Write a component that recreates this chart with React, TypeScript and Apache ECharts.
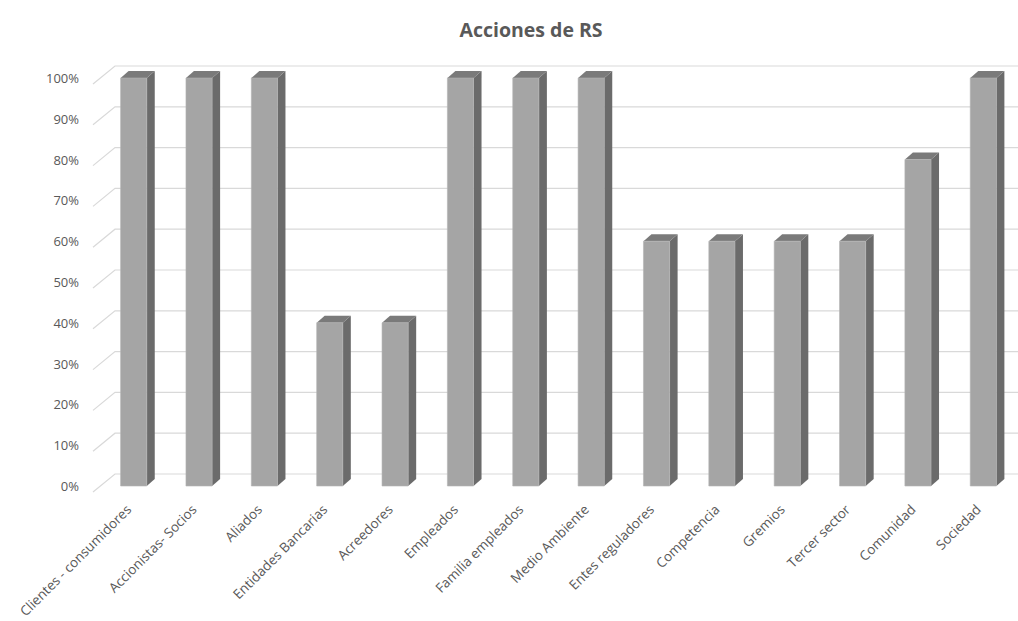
import React, { useEffect, useRef } from "react";
import * as echarts from "echarts";

const titleText = "Acciones de RS";
const categories = [
  "Clientes - consumidores",
  "Accionistas- Socios",
  "Aliados",
  "Entidades Bancarias",
  "Acreedores",
  "Empleados",
  "Familia empleados",
  "Medio Ambiente",
  "Entes reguladores",
  "Competencia",
  "Gremios",
  "Tercer sector",
  "Comunidad",
  "Sociedad",
];
const values = [1, 1, 1, 0.4, 0.4, 1, 1, 1, 0.6, 0.6, 0.6, 0.6, 0.8, 1];
const gridTicks = [0, 0.1, 0.2, 0.3, 0.4, 0.5, 0.6, 0.7, 0.8, 0.9, 1];

const FONT = "'Open Sans', sans-serif";
const DX = 8;
const DY = 7;

export default function App() {
  const ref = useRef<HTMLDivElement>(null);
  useEffect(() => {
    if (!ref.current) return;
    const chart = echarts.init(ref.current, null, { renderer: "svg" });
    chart.setOption({
      animation: false,
      backgroundColor: "#ffffff",
      title: {
        text: titleText,
        left: 526,
        textAlign: "center",
        top: 14,
        textStyle: { fontFamily: FONT, fontSize: 19.5, fontWeight: "bold", color: "#595959" },
      },
      grid: { left: 101, right: 2, top: 78, bottom: 135 },
      xAxis: {
        type: "category",
        data: categories,
        axisLine: { show: false },
        axisTick: { show: false },
        axisLabel: {
          rotate: 45,
          interval: 0,
          margin: 16,
          padding: [0, 7, 0, 0],
          fontFamily: FONT,
          fontSize: 13.5,
          color: "#595959",
        },
      },
      yAxis: {
        type: "value",
        min: 0,
        max: 1,
        interval: 0.1,
        splitLine: { show: false },
        axisLine: { show: false },
        axisTick: { show: false },
        axisLabel: {
          margin: 22,
          padding: [12, 0, 0, 0],
          fontFamily: FONT,
          fontSize: 13,
          color: "#595959",
          formatter: (v: number) => Math.round(v * 100) + "%",
        },
      },
      series: [
        {
          type: "custom",
          silent: true,
          z: 1,
          data: gridTicks.map((t) => [0, t]),
          renderItem: (params: any, api: any) => {
            const cs = params.coordSys;
            const p = api.coord([0, api.value(1)]);
            const y = p[1];
            return {
              type: "polyline",
              shape: {
                points: [
                  [cs.x - 8, y + 6],
                  [cs.x + 14, y - 12],
                  [cs.x + cs.width + 2, y - 12],
                ],
              },
              style: { stroke: "#d9d9d9", lineWidth: 1.2, fill: "none" },
            };
          },
        },
        {
          type: "custom",
          z: 2,
          data: values.map((v, i) => [i, v]),
          renderItem: (params: any, api: any) => {
            const i = api.value(0);
            const v = api.value(1);
            const top = api.coord([i, v]);
            const base = api.coord([i, 0]);
            const band = api.size([1, 0])[0];
            const w = band * 0.4;
            const left = top[0] - w / 2;
            const right = left + w;
            const yt = top[1];
            const yb = base[1];
            return {
              type: "group",
              children: [
                {
                  type: "polygon",
                  shape: {
                    points: [
                      [right, yt],
                      [right + DX, yt - DY],
                      [right + DX, yb - DY],
                      [right, yb],
                    ],
                  },
                  style: { fill: "#6b6b6b" },
                },
                {
                  type: "polygon",
                  shape: {
                    points: [
                      [left, yt],
                      [left + DX, yt - DY],
                      [right + DX, yt - DY],
                      [right, yt],
                    ],
                  },
                  style: { fill: "#7a7a7a" },
                },
                {
                  type: "rect",
                  shape: { x: left, y: yt, width: w, height: yb - yt },
                  style: { fill: "#a5a5a5", stroke: "#b4b4b4", lineWidth: 0.6 },
                },
              ],
            };
          },
        },
      ],
    });
    return () => chart.dispose();
  }, []);
  return (
    <div
      ref={ref}
      style={{ position: "fixed", left: 0, top: 0, width: 1018, height: 621 }}
    />
  );
}
